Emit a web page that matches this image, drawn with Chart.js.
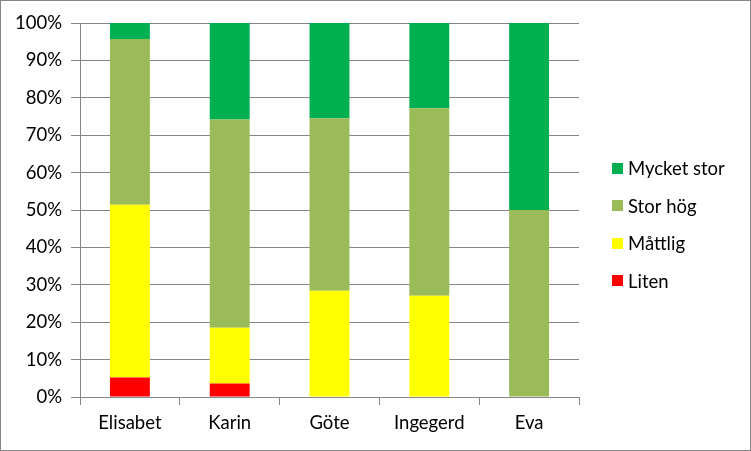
<!DOCTYPE html>
<html>
<head>
<meta charset="utf-8">
<script src="https://cdn.jsdelivr.net/npm/chart.js@4/dist/chart.umd.min.js"></script>
<style>
html,body{margin:0;padding:0;background:#fff;}
#wrap{width:751px;height:451px;position:relative;}
</style>
</head>
<body>
<div id="wrap"><canvas id="c" width="751" height="451"></canvas></div>
<script>
const categories = ["Elisabet", "Karin", "Göte", "Ingegerd", "Eva"];
const liten      = [5.2, 3.6, 0, 0, 0];
const mattlig    = [46.2, 14.9, 28.4, 27.1, 0];
const storHog    = [44.3, 55.7, 46.1, 50.1, 50];
const mycketStor = [4.3, 25.8, 25.5, 22.8, 50];
const yTicks = [0,10,20,30,40,50,60,70,80,90,100];

const FONT = "Lato, 'Open Sans', sans-serif";
const FS = 18.5;
const GRID = "#868686";

const frameAndLegend = {
  id: 'frameAndLegend',
  beforeDraw(chart){
    const ctx = chart.ctx;
    ctx.save();
    ctx.fillStyle = '#fff';
    ctx.fillRect(0,0,chart.width,chart.height);
    ctx.restore();
  },
  afterDraw(chart){
    const ctx = chart.ctx;
    ctx.save();
    ctx.strokeStyle = GRID;
    ctx.lineWidth = 1;
    ctx.strokeRect(0.5,0.5,chart.width-1,chart.height-1);
    const ds = chart.data.datasets.slice().reverse();
    const x0 = 612, y0 = 168, step = 37.6, box = 11;
    ctx.font = FS + "px " + FONT;
    ctx.textBaseline = 'middle';
    ctx.textAlign = 'left';
    ds.forEach((d,i)=>{
      const y = y0 + i*step;
      ctx.fillStyle = d.backgroundColor;
      ctx.fillRect(x0, Math.round(y - box/2), box, box);
      ctx.fillStyle = '#000';
      ctx.fillText(d.label, x0 + 16, y + 1);
    });
    ctx.restore();
  }
};

new Chart(document.getElementById('c'), {
  type: 'bar',
  data: {
    labels: categories,
    datasets: [
      {label: 'Liten', data: liten, backgroundColor: '#FF0000'},
      {label: 'Måttlig', data: mattlig, backgroundColor: '#FFFF00'},
      {label: 'Stor hög', data: storHog, backgroundColor: '#9BBB59'},
      {label: 'Mycket stor', data: mycketStor, backgroundColor: '#00B050'}
    ]
  },
  options: {
    responsive: false,
    animation: false,
    events: [],
    layout: {padding: {top: 23, right: 172, bottom: 0, left: 0}},
    datasets: {bar: {barPercentage: 0.4, categoryPercentage: 1.0, borderWidth: 0}},
    plugins: {legend: {display: false}, tooltip: {enabled: false}},
    scales: {
      x: {
        stacked: true,
        grid: {display: true, drawOnChartArea: false, color: GRID, tickLength: 8, offset: true},
        border: {display: true, color: GRID},
        ticks: {color: '#000', font: {family: FONT, size: FS}, padding: 7, maxRotation: 0},
        afterFit(s){ s.height = 54; }
      },
      y: {
        stacked: true,
        min: 0, max: 100,
        afterBuildTicks(s){ s.ticks = yTicks.map(v=>({value:v})); },
        grid: {color: GRID, tickLength: 9},
        border: {display: true, color: GRID},
        ticks: {color: '#000', font: {family: FONT, size: FS}, padding: 9, callback: v => v + '%'},
        afterFit(s){ s.width = 80; }
      }
    }
  },
  plugins: [frameAndLegend]
});
</script>
</body>
</html>
